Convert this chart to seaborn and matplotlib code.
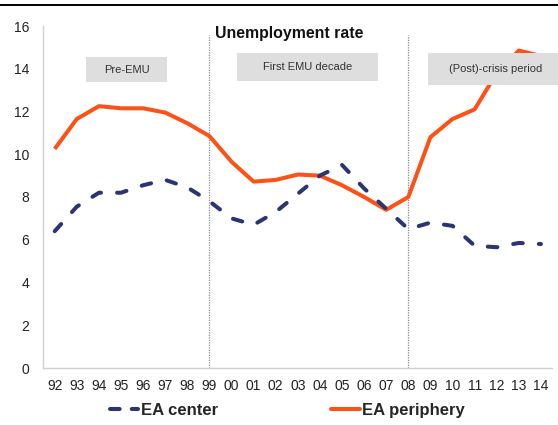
import numpy as np
import pandas as pd
import matplotlib
matplotlib.use("Agg")
import matplotlib.pyplot as plt
import seaborn as sns
from matplotlib.patches import Rectangle
from matplotlib.lines import Line2D

years = ["92", "93", "94", "95", "96", "97", "98", "99", "00", "01", "02",
         "03", "04", "05", "06", "07", "08", "09", "10", "11", "12", "13", "14"]
ea_center = [6.4, 7.55, 8.2, 8.2, 8.55, 8.8, 8.45, 7.8, 7.0, 6.7, 7.3,
             8.15, 9.0, 9.5, 8.4, 7.45, 6.5, 6.8, 6.65, 5.72, 5.65, 5.85, 5.8]
ea_periphery = [10.25, 11.65, 12.25, 12.15, 12.15, 11.95, 11.45, 10.85, 9.65, 8.72, 8.8,
                9.05, 9.0, 8.55, 8.0, 7.4, 8.0, 10.8, 11.65, 12.1, 13.8, 14.85, 14.6]
periods = ["Pre-EMU", "First EMU decade", "(Post)-crisis period"]
break_years = ["99", "08"]

df = pd.DataFrame({"year": years, "pos": np.arange(len(years)),
                   "EA center": ea_center, "EA periphery": ea_periphery})

sns.set_style("white")
plt.rcParams["font.family"] = ["Liberation Sans", "DejaVu Sans"]

fig = plt.figure(figsize=(5.58, 4.25), dpi=100)
ax = fig.add_axes([43 / 558, 57 / 425, 509 / 558, 342 / 425])

blue = "#2B3574"
orange = "#FC5217"

sns.lineplot(data=df, x="pos", y="EA periphery", color=orange, linewidth=2.9,
             ax=ax, zorder=3, solid_capstyle="butt")
sns.lineplot(data=df, x="pos", y="EA center", color=blue, linewidth=2.9,
             ax=ax, zorder=3, linestyle=(0, (2.4, 4.0)), dash_capstyle="round")

ax.set_xlim(-0.53, len(years) - 0.5)
ax.set_ylim(0, 16)
ax.set_yticks(np.arange(0, 17, 2))
ax.set_xticks(df["pos"])
ax.set_xticklabels(years)
ax.tick_params(axis="both", length=0, labelsize=10, colors="#222222")
ax.tick_params(axis="y", pad=10)
ax.tick_params(axis="x", pad=8)
ax.set_xlabel("")
ax.set_ylabel("")

for s in ["top", "right"]:
    ax.spines[s].set_visible(False)
for s in ["left", "bottom"]:
    ax.spines[s].set_color("#D0D0D0")
    ax.spines[s].set_linewidth(1.0)

for by in break_years:
    xp = years.index(by)
    ax.plot([xp, xp], [0, 15.6], color="#888888", linewidth=0.9,
            linestyle=(0, (1, 1)), zorder=2)

boxes = [(0.0845, 0.836, 0.159, 0.073),
         (0.381, 0.839, 0.277, 0.082),
         (0.756, 0.827, 0.26, 0.094)]
text_x = [0.164, 0.5195, 0.89]
for (bx, by, bw, bh), tx, label in zip(boxes, text_x, periods):
    ax.add_patch(Rectangle((bx, by), bw, bh, transform=ax.transAxes,
                           facecolor="#DEDEDE", edgecolor="none", zorder=4,
                           clip_on=False))
    ax.text(tx, by + bh / 2, label,
            transform=ax.transAxes, ha="center", va="center", fontsize=8,
            color="#333333", zorder=5)

ax.text(0.483, 0.978, "Unemployment rate", transform=ax.transAxes,
        ha="center", va="center", fontsize=11.4, fontweight="bold",
        color="#111111", zorder=5)

handles = [Line2D([0], [0], color=blue, linewidth=2.9, linestyle=(0, (2.4, 3.0)),
                  dash_capstyle="round"),
           Line2D([0], [0], color=orange, linewidth=2.9)]
fig.legend(handles, ["EA center", "EA periphery"], loc="center",
           bbox_to_anchor=(0.515, 0.035), ncol=2, frameon=False,
           prop={"weight": "bold", "size": 12},
           handlelength=1.7, handletextpad=0.15, columnspacing=6.8)

fig.add_artist(Line2D([0, 1], [1 - 5 / 425, 1 - 5 / 425], color="black",
                      linewidth=1.4, transform=fig.transFigure))

fig.savefig("out.png", dpi=100)
